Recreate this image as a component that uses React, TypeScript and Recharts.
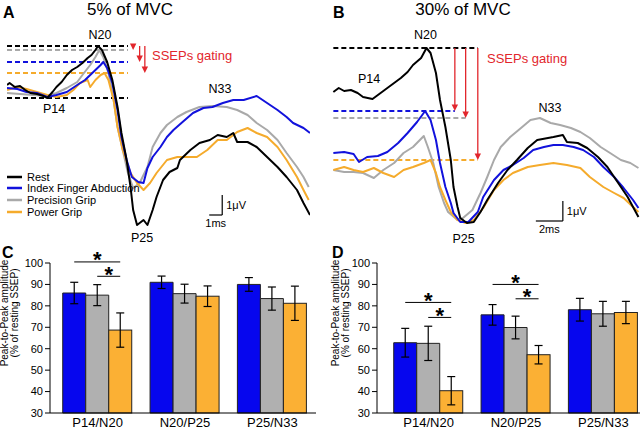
import React from 'react';
import { LineChart, Line, XAxis, YAxis, ReferenceLine, BarChart, Bar, ErrorBar } from 'recharts';

type Pt = [number, number];

// grand-average SSEP traces, [latency ms, amplitude µV] -- 5% MVC
const restTrace5: Pt[] = [
  [13.0, 0.65], [13.2, 0.75], [13.6, 0.55], [14.0, 0.6], [14.4, 0.4], [14.8, 0.25], [15.3, 0.2], [15.8, 0.1],
  [16.1, 0], [16.5, 0.3], [16.8, 0.55], [17.2, 0.8], [17.6, 1.15], [18.0, 1.4], [18.4, 1.55], [18.8, 1.75],
  [19.2, 2.0], [19.5, 2.15], [19.8, 2.4], [20.0, 2.6], [20.3, 2.4], [20.7, 1.8], [21.1, 0.9], [21.5, -0.45],
  [21.8, -1.75], [22.2, -3.1], [22.5, -4.45], [22.7, -5.6], [23.0, -6.35], [23.5, -6.1], [23.8, -6.35],
  [24.2, -5.6], [24.5, -4.95], [25.0, -4.1], [25.5, -3.7], [26.1, -3.5], [26.3, -3.1], [27.1, -2.6],
  [27.8, -2.25], [28.6, -2.1], [29.2, -1.85], [29.9, -1.95], [30.4, -1.75], [30.7, -2.2], [31.5, -2.2],
  [32.2, -2.45], [33.0, -2.95], [33.8, -3.45], [34.5, -3.95], [35.3, -4.6], [35.8, -5.25], [36.3, -5.85],
];
const abdTrace5: Pt[] = [
  [13.0, 0.5], [13.8, 0.45], [14.5, 0.3], [15.3, 0.25], [16.1, 0.05], [16.8, 0.15], [17.6, 0.3], [18.4, 0.65],
  [19.0, 0.9], [19.4, 1.15], [19.8, 1.4], [20.2, 1.65], [20.4, 1.8], [20.7, 1.5], [21.1, 0.75], [21.5, -0.6],
  [21.8, -1.95], [22.2, -3.1], [22.6, -3.95], [23.1, -4.2], [23.5, -4.25], [23.8, -3.5], [24.2, -2.95],
  [24.8, -2.45], [25.3, -1.95], [25.8, -1.6], [26.5, -1.2], [27.3, -0.75], [28.1, -0.5], [28.8, -0.45],
  [29.6, -0.25], [30.4, -0.1], [31.2, -0.1], [32.2, 0.1], [33.0, -0.25], [33.8, -0.6], [34.5, -0.95],
  [35.0, -1.25], [35.8, -1.5], [36.3, -1.75],
];
const precTrace5: Pt[] = [
  [13.0, 0.25], [14.0, 0.2], [15.0, 0.15], [16.1, 0.1], [16.8, 0.25], [17.6, 0.5], [18.4, 0.8], [18.8, 1.15],
  [19.4, 1.65], [19.8, 2.05], [20.1, 2.4], [20.4, 2.05], [20.8, 1.25], [21.2, -0.1], [21.5, -1.45], [21.9, -2.6],
  [22.3, -3.75], [22.7, -4.5], [23.2, -4.25], [23.8, -3.45], [24.2, -2.45], [24.8, -1.75], [25.3, -1.35],
  [26.1, -0.95], [26.8, -0.7], [27.8, -0.45], [28.8, -0.4], [29.9, -0.45], [30.7, -0.6], [31.5, -0.85],
  [32.2, -1.25], [33.0, -1.6], [33.8, -2.1], [34.5, -2.75], [35.3, -3.45], [35.8, -3.95], [36.2, -4.45],
];
const powTrace5: Pt[] = [
  [13.0, 0.4], [13.8, 0.55], [14.5, 0.45], [15.3, 0.3], [16.1, 0.15], [16.8, 0.05], [17.6, 0.15], [18.1, 0.4],
  [18.6, 0.75], [19.2, 0.9], [19.4, 0.55], [19.8, 0.9], [20.2, 1.15], [20.5, 1.25], [20.8, 0.9], [21.2, -0.1],
  [21.5, -1.45], [21.9, -2.6], [22.5, -3.75], [23.0, -4.25], [23.5, -4.6], [24.0, -4.25], [24.5, -3.75],
  [25.3, -3.1], [26.1, -2.95], [26.8, -2.95], [27.6, -2.95], [28.4, -2.6], [29.2, -2.1], [29.9, -2.1],
  [30.7, -1.7], [31.5, -1.5], [32.2, -1.75], [33.0, -1.95], [33.8, -2.45], [34.5, -3.1], [35.3, -3.95],
  [35.8, -4.6], [36.2, -5.1],
];

// 30% MVC
const restTrace30: Pt[] = [
  [13.1, 3.9], [13.5, 4.1], [13.9, 3.95], [14.4, 4.0], [14.9, 3.85], [15.3, 3.65], [16.0, 3.55], [16.6, 3.85],
  [17.1, 4.1], [17.6, 4.35], [18.1, 4.6], [18.6, 4.9], [19.0, 5.25], [19.6, 5.6], [19.8, 5.85], [20.0, 6.1],
  [20.3, 5.85], [20.7, 4.85], [21.0, 3.5], [21.4, 2.15], [21.8, 0.5], [22.0, -0.85], [22.3, -1.85],
  [22.5, -2.4], [23.0, -2.65], [23.5, -2.6], [24.0, -2.1], [24.5, -1.5], [25.3, -0.65], [26.0, 0],
  [26.7, 0.5], [27.5, 1.1], [28.2, 1.5], [29.0, 1.6], [29.4, 1.65], [30.1, 1.75], [30.4, 1.4], [31.2, 1.35],
  [31.9, 1.1], [32.7, 0.65], [33.4, 0.15], [33.9, -0.35], [34.4, -0.85], [34.9, -1.35], [35.3, -1.85],
  [35.7, -2.35],
];
const abdTrace30: Pt[] = [
  [13.1, 0.85], [13.9, 0.9], [14.6, 0.8], [15.0, 0.4], [15.6, 0.65], [16.4, 0.7], [17.1, 0.9], [17.9, 1.35],
  [18.6, 1.85], [19.3, 2.4], [19.9, 2.95], [20.3, 2.5], [20.7, 1.5], [21.0, 0.35], [21.4, -0.85], [21.8, -1.65],
  [22.0, -2.15], [22.5, -2.6], [23.1, -2.6], [23.8, -2.1], [24.2, -1.35], [25.0, -0.5], [25.7, 0], [26.4, 0.25],
  [27.2, 0.6], [27.9, 1.0], [28.7, 1.15], [29.4, 1.25], [30.1, 1.25], [30.9, 1.15], [31.6, 1.0], [32.4, 0.65],
  [33.1, 0.15], [33.9, -0.35], [34.6, -0.9], [35.3, -1.5], [35.7, -1.9],
];
const precTrace30: Pt[] = [
  [13.1, 0], [13.9, -0.1], [14.6, -0.1], [15.3, -0.15], [16.1, -0.4], [16.8, 0], [17.6, 0.35], [18.3, 0.85],
  [19.0, 1.15], [19.8, 1.7], [20.1, 1.15], [20.5, 0.35], [20.9, -0.85], [21.3, -1.65], [21.6, -2.1],
  [22.3, -2.5], [22.7, -2.4], [23.4, -2.0], [24.0, -1.15], [24.5, -0.35], [25.0, 0.5], [25.5, 1.15],
  [26.2, 1.65], [27.0, 2.1], [27.7, 2.5], [28.4, 2.6], [29.2, 2.35], [29.9, 2.25], [30.7, 2.1], [31.4, 1.9],
  [32.1, 1.6], [32.9, 1.15], [33.6, 0.85], [34.4, 0.5], [35.1, 0.35], [35.7, 0.1],
];
const powTrace30: Pt[] = [
  [13.1, 0], [13.9, 0.15], [14.6, 0], [15.3, -0.1], [16.1, 0.1], [16.8, -0.15], [17.6, -0.35], [18.3, 0],
  [19.0, 0.15], [19.8, 0.35], [20.3, 0.5], [20.7, -0.15], [21.0, -0.85], [21.4, -1.5], [21.8, -2.1],
  [22.3, -2.5], [22.9, -2.65], [23.5, -2.5], [24.2, -1.9], [25.0, -1.0], [25.7, -0.5], [26.4, -0.15],
  [27.5, 0.15], [28.4, 0.25], [29.4, 0.35], [30.4, 0.25], [31.4, 0.1], [32.1, -0.35], [33.1, -0.85],
  [33.9, -1.15], [34.6, -1.4], [35.3, -1.85], [35.7, -2.1],
];

const conditions = ['Rest', 'Index Finger Abduction', 'Precision Grip', 'Power Grip'];
const traceColors = ['#000000', '#1212dc', '#a9a9a9', '#f5ab2c'];
const RED = '#e2262c';

// peak-to-peak amplitude, % of resting SSEP (mean, sem)
const peakPairs = ['P14/N20', 'N20/P25', 'P25/N33'];
const abdAmp5 = [86, 91, 90];
const abdSem5 = [5, 2.9, 3.2];
const precAmp5 = [85, 85.7, 83.4];
const precSem5 = [4.9, 4.4, 5.4];
const powAmp5 = [68.7, 84.5, 81.2];
const powSem5 = [8, 4.8, 8];
const abdAmp30 = [62.8, 75.8, 78.2];
const abdSem30 = [6.7, 4.8, 5.3];
const precAmp30 = [62.5, 69.9, 76.3];
const precSem30 = [8, 5.3, 5.8];
const powAmp30 = [40.4, 57.2, 76.9];
const powSem30 = [6.6, 4.3, 5.2];
const ampTicks = [30, 40, 50, 60, 70, 80, 90, 100];

// significance brackets per pair: [power vs abduction, power vs precision]
const sig5: (number[] | null)[] = [[100.5, 93.8], null, null];
const sig30: (number[] | null)[] = [[81.6, 74.6], [90, 83.3], null];

const FONT = '"Liberation Sans", Arial, sans-serif';

const GatingArrow = (p: any) => {
  const { x1, y1, x2, y2 } = p;
  return (
    <g>
      <line x1={x1} y1={y1} x2={x2} y2={Math.max(y1, y2 - 5)} stroke={RED} strokeWidth={1.3} />
      <path d={`M${x2 - 3.2},${y2 - 6.5} L${x2 + 3.2},${y2 - 6.5} L${x2},${y2} Z`} fill={RED} />
    </g>
  );
};

type WaveProps = {
  traces: Pt[][];
  left: number;
  width: number;
  xDomain: [number, number];
  yDomain: [number, number];
  dashStart: number;
  dashEnds: number[];
  arrowX: number[];
  showP14?: boolean;
  bar: { t: number; v: number; ms: number; label: string };
};

function WavePanel({ traces, left, width, xDomain, yDomain, dashStart, dashEnds, arrowX, showP14, bar }: WaveProps) {
  const peaks = traces.map((tr) => Math.max(...tr.map((p) => p[1])));
  const p14 = Math.min(...traces[0].filter((p) => p[0] < 20).map((p) => p[1]));
  const order = [2, 3, 1, 0];
  return (
    <div style={{ position: 'absolute', left, top: 40 }}>
      <LineChart width={width} height={200} margin={{ top: 0, right: 0, bottom: 0, left: 0 }}>
        <XAxis type="number" dataKey="t" domain={xDomain} hide allowDataOverflow />
        <YAxis type="number" domain={yDomain} hide allowDataOverflow />
        {[0, 1, 2, 3].map((i) => (
          <ReferenceLine
            key={'lvl' + i}
            segment={[{ x: dashStart, y: peaks[i] }, { x: dashEnds[i], y: peaks[i] }]}
            stroke={traceColors[i]}
            strokeWidth={2}
            strokeDasharray="5 3"
            ifOverflow="visible"
          />
        ))}
        {showP14 && (
          <ReferenceLine
            segment={[{ x: dashStart, y: p14 }, { x: dashEnds[0], y: p14 }]}
            stroke="#000"
            strokeWidth={2}
            strokeDasharray="5 3"
            ifOverflow="visible"
          />
        )}
        {order.map((i) => (
          <Line
            key={conditions[i]}
            data={traces[i].map(([t, v]) => ({ t, v }))}
            dataKey="v"
            type="linear"
            stroke={traceColors[i]}
            strokeWidth={2}
            strokeLinejoin="round"
            dot={false}
            isAnimationActive={false}
          />
        ))}
        {[1, 2, 3].map((i) => (
          <ReferenceLine
            key={'arrow' + i}
            segment={[{ x: arrowX[i - 1], y: peaks[0] }, { x: arrowX[i - 1], y: peaks[i] }]}
            shape={GatingArrow}
            ifOverflow="visible"
          />
        ))}
        <ReferenceLine
          segment={[{ x: bar.t, y: bar.v }, { x: bar.t, y: bar.v + 1 }]}
          stroke="#000"
          strokeWidth={1.2}
          ifOverflow="visible"
          label={{ value: '1μV', position: 'right', offset: 4, fontSize: 11, fill: '#000', fontFamily: FONT }}
        />
        <ReferenceLine
          segment={[{ x: bar.t - bar.ms, y: bar.v }, { x: bar.t, y: bar.v }]}
          stroke="#000"
          strokeWidth={1.2}
          ifOverflow="visible"
          label={{ value: bar.label, position: 'bottom', offset: 4, fontSize: 11, fill: '#000', fontFamily: FONT }}
        />
      </LineChart>
    </div>
  );
}

const bracketShape = (levels: (number[] | null)[]) => (p: any) => {
  const { x, y, width, height, index, payload, fill } = p;
  const k = height / (payload.pow - ampTicks[0]);
  const cx = x + width / 2;
  const lv = levels[index];
  return (
    <g>
      <rect x={x} y={y} width={width} height={height} fill={fill} stroke="#222" strokeWidth={1} />
      {lv &&
        lv.map((b, j) => {
          const yy = y - (b - payload.pow) * k;
          const x0 = cx - (2 - j) * width;
          return (
            <g key={j}>
              <line x1={x0} x2={cx} y1={yy} y2={yy} stroke="#000" strokeWidth={1} />
              <text x={(x0 + cx) / 2} y={yy + 5.5} textAnchor="middle" fontSize={22} fontWeight="bold" fontFamily={FONT}>
                *
              </text>
            </g>
          );
        })}
    </g>
  );
};

type BarsProps = {
  left: number;
  width: number;
  padLeft: number;
  abd: number[];
  abdSem: number[];
  prec: number[];
  precSem: number[];
  pow: number[];
  powSem: number[];
  sig: (number[] | null)[];
};

function AmplitudeBars({ left, width, padLeft, abd, abdSem, prec, precSem, pow, powSem, sig }: BarsProps) {
  const data = peakPairs.map((name, i) => ({
    name,
    abd: abd[i],
    abdErr: abdSem[i],
    prec: prec[i],
    precErr: precSem[i],
    pow: pow[i],
    powErr: powSem[i],
  }));
  return (
    <div style={{ position: 'absolute', left, top: 236 }}>
      <BarChart
        width={width}
        height={197}
        data={data}
        margin={{ top: 27, right: 10, bottom: 0, left: 18 }}
        barGap={0}
        barCategoryGap="10%"
      >
        <XAxis
          dataKey="name"
          axisLine={{ stroke: '#000' }}
          tickLine={false}
          tickSize={5}
          tickMargin={0}
          tick={{ fontSize: 13, fill: '#000', fontFamily: FONT }}
          padding={{ left: padLeft, right: 0 }}
          height={20}
          interval={0}
        />
        <YAxis
          type="number"
          domain={[30, 100]}
          ticks={ampTicks}
          width={32}
          axisLine={{ stroke: '#000' }}
          tickLine={{ stroke: '#000' }}
          tickSize={5}
          tickMargin={2}
          tick={{ fontSize: 11, fill: '#000', fontFamily: FONT }}
        />
        <Bar dataKey="abd" fill="#0606ee" stroke="#222" strokeWidth={1} isAnimationActive={false}>
          <ErrorBar dataKey="abdErr" width={4} stroke="#000" strokeWidth={1.2} />
        </Bar>
        <Bar dataKey="prec" fill="#b0b0b0" stroke="#222" strokeWidth={1} isAnimationActive={false}>
          <ErrorBar dataKey="precErr" width={4} stroke="#000" strokeWidth={1.2} />
        </Bar>
        <Bar dataKey="pow" fill="#fbb034" isAnimationActive={false} shape={bracketShape(sig)}>
          <ErrorBar dataKey="powErr" width={4} stroke="#000" strokeWidth={1.2} />
        </Bar>
      </BarChart>
    </div>
  );
}

const legendRows = [177, 188, 200, 212];

export default function App() {
  return (
    <div
      style={{
        position: 'absolute',
        left: 0,
        top: 0,
        width: 640,
        height: 432,
        overflow: 'hidden',
        background: '#fff',
        fontFamily: FONT,
      }}
    >
      <WavePanel
        traces={[restTrace5, abdTrace5, precTrace5, powTrace5]}
        left={7}
        width={303}
        xDomain={[13, 36.3]}
        yDomain={[-7.1, 2.9]}
        dashStart={13}
        dashEnds={[22.3, 22.3, 22.3, 22.3]}
        arrowX={[23.2, 22.7, 23.6]}
        showP14
        bar={{ t: 29.55, v: -5.85, ms: 1, label: '1ms' }}
      />
      <WavePanel
        traces={[restTrace30, abdTrace30, precTrace30, powTrace30]}
        left={331.5}
        width={310.5}
        xDomain={[13, 36]}
        yDomain={[-3.5, 6.5]}
        dashStart={13.1}
        dashEnds={[23.8, 22.1, 22.9, 23.8]}
        arrowX={[22.1, 22.9, 23.8]}
        bar={{ t: 30.1, v: -2.55, ms: 2, label: '2ms' }}
      />
      <AmplitudeBars
        left={0}
        width={326}
        padLeft={4}
        abd={abdAmp5}
        abdSem={abdSem5}
        prec={precAmp5}
        precSem={precSem5}
        pow={powAmp5}
        powSem={powSem5}
        sig={sig5}
      />
      <AmplitudeBars
        left={327}
        width={330}
        padLeft={8}
        abd={abdAmp30}
        abdSem={abdSem30}
        prec={precAmp30}
        precSem={precSem30}
        pow={powAmp30}
        powSem={powSem30}
        sig={sig30}
      />
      <svg
        width={640}
        height={432}
        style={{ position: 'absolute', left: 0, top: 0, pointerEvents: 'none' }}
        fontFamily={FONT}
      >
        <text x={3} y={18} fontSize={16} fontWeight="bold">A</text>
        <text x={333} y={18} fontSize={16} fontWeight="bold">B</text>
        <text x={2} y={258} fontSize={16} fontWeight="bold">C</text>
        <text x={332} y={258} fontSize={16} fontWeight="bold">D</text>
        <text x={130} y={15} fontSize={17} textAnchor="middle">5% of MVC</text>
        <text x={463} y={15} fontSize={17} textAnchor="middle">30% of MVC</text>

        <g fontSize={12.5} textAnchor="middle">
          <text x={100} y={39}>N20</text>
          <text x={54} y={113}>P14</text>
          <text x={220} y={93}>N33</text>
          <text x={142} y={242}>P25</text>
          <text x={425.5} y={39}>N20</text>
          <text x={369} y={83}>P14</text>
          <text x={550} y={112}>N33</text>
          <text x={463.5} y={243}>P25</text>
        </g>
        <text x={152} y={59.5} fontSize={13} fill={RED}>SSEPs gating</text>
        <text x={487} y={63} fontSize={13} fill={RED}>SSEPs gating</text>

        {conditions.map((c, i) => (
          <g key={c}>
            <line x1={7} x2={22} y1={legendRows[i]} y2={legendRows[i]} stroke={traceColors[i]} strokeWidth={2.5} />
            <text x={27} y={legendRows[i] + 4} fontSize={11}>{c}</text>
          </g>
        ))}

        {[0, 331].map((dx) => (
          <g key={dx} fontSize={10} textAnchor="middle">
            <text transform={`translate(${7.7 + dx},313) rotate(-90)`}>Peak-to-Peak amplitude</text>
            <text transform={`translate(${17.7 + dx},313) rotate(-90)`}>(% of resting SSEP)</text>
          </g>
        ))}
      </svg>
    </div>
  );
}
